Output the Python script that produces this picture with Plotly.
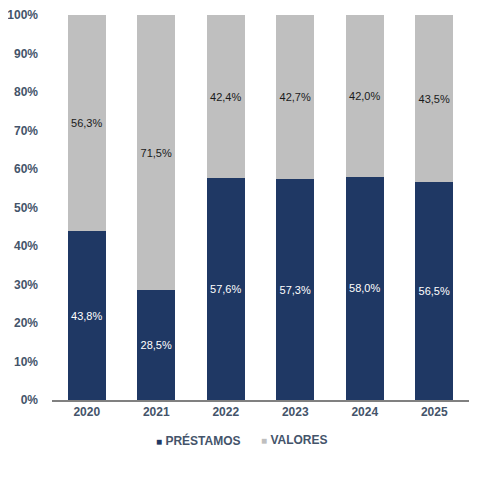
import plotly.graph_objects as go

years = ["2020", "2021", "2022", "2023", "2024", "2025"]
prestamos = [43.8, 28.5, 57.6, 57.3, 58.0, 56.5]
valores = [56.3, 71.5, 42.4, 42.7, 42.0, 43.5]
series_names = ["PRÉSTAMOS", "VALORES"]
series_colors = ["#1F3864", "#BFBFBF"]
tick_vals = [0, 10, 20, 30, 40, 50, 60, 70, 80, 90, 100]
tick_text = [f"{v}%" for v in tick_vals]

def fmt(v):
    return f"{v:.1f}%".replace(".", ",")

FONT = "Liberation Sans, Arial"
TXT = "#44546A"

fig = go.Figure()
fig.add_trace(go.Bar(
    x=years, y=prestamos, name=series_names[0],
    marker=dict(color=series_colors[0], line=dict(width=0)),
    text=[fmt(v) for v in prestamos], textposition="inside",
    insidetextanchor="middle",
    textfont=dict(color="white", size=11, family=FONT),
    showlegend=False,
))
fig.add_trace(go.Bar(
    x=years, y=valores, name=series_names[1],
    marker=dict(color=series_colors[1], line=dict(width=0)),
    text=[fmt(v) for v in valores], textposition="inside",
    insidetextanchor="middle",
    textfont=dict(color="#1a1a1a", size=11, family=FONT),
    showlegend=False,
))

# legend drawn as text annotations (small square markers close to labels)
legend_x = [0.245, 0.497]
for name, color, lx in zip(series_names, series_colors, legend_x):
    fig.add_annotation(
        x=lx, y=-0.104, xref="paper", yref="paper",
        xanchor="left", yanchor="middle", showarrow=False,
        text=f"<span style='color:{color};font-size:10px'>■</span> <b>{name}</b>",
        font=dict(size=12, color=TXT, family=FONT),
    )

fig.update_layout(
    barmode="stack",
    bargap=0.45,
    width=480, height=480,
    margin=dict(l=44, r=19, t=7, b=88, autoexpand=False),
    paper_bgcolor="white", plot_bgcolor="white",
    font=dict(family=FONT, color=TXT),
    uniformtext=dict(mode="show", minsize=11),
    showlegend=False,
)
fig.update_xaxes(
    showline=True, linecolor="#808080", linewidth=1.5,
    tickfont=dict(size=12, color=TXT, weight="bold"),
    ticks="", showgrid=False, automargin=False,
)
fig.update_yaxes(
    range=[0, 100], tickvals=tick_vals, ticktext=tick_text,
    showgrid=False, zeroline=False, showline=False,
    tickfont=dict(size=12, color=TXT, weight="bold"),
    ticks="", ticklabelstandoff=13, automargin=False,
)

fig.write_html("out.html")
